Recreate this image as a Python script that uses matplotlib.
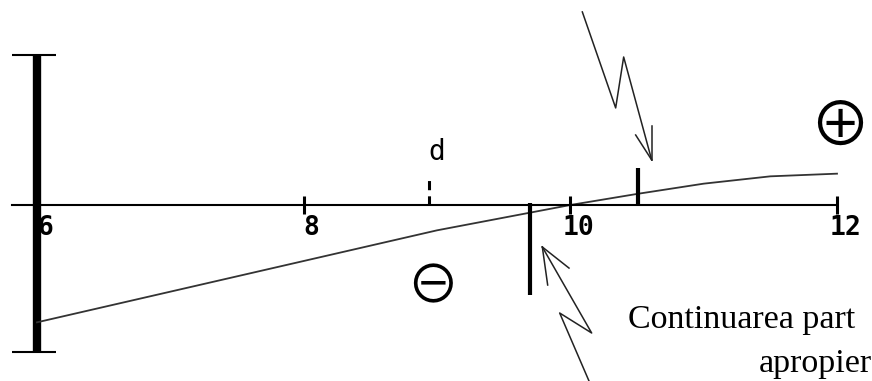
import numpy as np
import matplotlib
matplotlib.use("Agg")
import matplotlib.pyplot as plt
from matplotlib.transforms import ScaledTranslation

# curve (x on the 6..12 scale, y relative to the axis)
curve_x = [6.0, 7.0, 8.0, 9.0, 9.5, 10.0, 10.5, 11.0, 11.5, 12.0]
curve_y = [-0.88, -0.65, -0.42, -0.19, -0.095, 0.0, 0.083, 0.16, 0.215, 0.235]

tick_pos = [6, 8, 10, 12]
tick_labels = ['6', '8', '10', '12']

d_pos = 8.94          # dashed mark "d"
root_pos = 9.70       # long mark under the axis
mark_pos = 10.51      # short mark above the curve

# lightning arrows (path ends at the tip)
top_arrow_x = [10.09, 10.34, 10.40, 10.61]
top_arrow_y = [1.448, 0.728, 1.110, 0.338]
bot_arrow_x = [10.14, 9.92, 10.16, 9.79]
bot_arrow_y = [-1.32, -0.81, -0.96, -0.315]

fig = plt.figure(figsize=(8.72, 3.81), dpi=100)
ax = fig.add_axes([0, 0, 1, 1])
ax.set_xlim(5.7225, 12.2625)
ax.set_ylim(-1.32, 1.5375)

# axis line through zero with ticks
for s in ['top', 'right', 'left']:
    ax.spines[s].set_visible(False)
ax.spines['bottom'].set_position(('data', 0))
ax.spines['bottom'].set_bounds(5.81, 12)
ax.spines['bottom'].set_linewidth(1.5)
ax.set_yticks([])
ax.set_xticks(tick_pos)
ax.set_xticklabels(tick_labels, family='DejaVu Sans Mono', fontsize=19,
                   fontweight='bold')
ax.tick_params(axis='x', direction='inout', length=13, width=2.2, pad=1)
off = ScaledTranslation(8 / 100, 0, fig.dpi_scale_trans)
for lab in ax.get_xticklabels():
    lab.set_transform(lab.get_transform() + off)

# thick bar at the left end, with caps
ax.vlines(6, -1.103, 1.125, color='black', lw=6)
ax.hlines([-1.103, 1.125], 5.81, 6.14, color='black', lw=1.5)

# the curve
ax.plot(curve_x, curve_y, color='#333333', lw=1.3)

# marks
ax.vlines(d_pos, 0, 0.225, color='black', lw=2.2, linestyles=(0, (3, 2)))
ax.text(d_pos + 0.06, 0.40, 'd', family='DejaVu Sans Mono', fontsize=20,
        ha='center', va='center')
ax.vlines(root_pos, -0.675, 0.015, color='black', lw=3)
ax.vlines(mark_pos, 0, 0.278, color='black', lw=3)

# sign regions
sym_fam = ['Noto Sans CJK JP', 'DejaVu Sans']
ax.text(12.02, 0.57, '\u2295', family=sym_fam, fontsize=44,
        ha='center', va='center')
ax.text(8.963, -0.622, '\u2296', family=sym_fam, fontsize=38,
        ha='center', va='center')

# lightning arrows with open heads
arrow_kw = dict(color='#222222', lw=1.1)
ax.plot(top_arrow_x, top_arrow_y, **arrow_kw)
ax.plot([10.61, 10.61], [0.593, 0.338], **arrow_kw)
ax.plot([10.49, 10.61], [0.525, 0.338], **arrow_kw)
ax.plot(bot_arrow_x, bot_arrow_y, **arrow_kw)
ax.plot([9.99, 9.79], [-0.473, -0.315], **arrow_kw)
ax.plot([9.83, 9.79], [-0.60, -0.315], **arrow_kw)

# caption (only the part visible in the picture)
ax.text(10.433, -0.923, 'Continuarea part', family='Liberation Serif',
        fontsize=24.5, ha='left', va='baseline')
ax.text(11.41, -1.25, 'apropier', family='Liberation Serif',
        fontsize=24.5, ha='left', va='baseline')

fig.savefig('out.png', dpi=100)
